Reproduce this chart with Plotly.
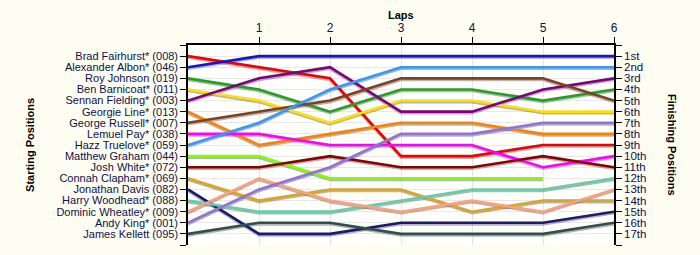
import plotly.graph_objects as go

laps = [0, 1, 2, 3, 4, 5, 6]
drivers = ["Brad Fairhurst* (008)", "Alexander Albon* (046)", "Roy Johnson (019)",
           "Ben Barnicoat* (011)", "Sennan Fielding* (003)", "Georgie Line* (013)",
           "George Russell* (007)", "Lemuel Pay* (038)", "Hazz Truelove* (059)",
           "Matthew Graham (044)", "Josh White* (072)", "Connah Clapham* (069)",
           "Jonathan Davis (082)", "Harry Woodhead* (088)", "Dominic Wheatley* (009)",
           "Andy King* (001)", "James Kellett (095)"]
positions = [
    [1, 2, 3, 10, 10, 9, 9],
    [2, 1, 1, 1, 1, 1, 1],
    [3, 4, 6, 4, 4, 5, 4],
    [4, 5, 7, 5, 5, 6, 6],
    [5, 3, 2, 6, 6, 4, 3],
    [6, 9, 8, 7, 7, 8, 8],
    [7, 6, 5, 3, 3, 3, 5],
    [8, 8, 9, 9, 9, 11, 10],
    [9, 7, 4, 2, 2, 2, 2],
    [10, 10, 12, 12, 12, 12, None],
    [11, 11, 10, 11, 11, 10, 11],
    [12, 14, 13, 13, 15, 14, 14],
    [13, 17, 17, 16, 16, 16, 15],
    [14, 15, 15, 14, 13, 13, 12],
    [15, 12, 14, 15, 14, 15, 13],
    [16, 13, 11, 8, 8, 7, 7],
    [17, 16, 16, 17, 17, 17, 16],
]
colors = ["#F00000", "#1414D2", "#22A022", "#FFE000", "#800080", "#FF8000",
          "#804020", "#FF00FF", "#3399FF", "#80FF00", "#8B0000", "#DAA520",
          "#1A1A70", "#66CDAA", "#FFA07A", "#9370DB", "#2F4F4F"]
finish_labels = ["1st", "2nd", "3rd", "4th", "5th", "6th", "7th", "8th", "9th",
                 "10th", "11th", "12th", "13th", "14th", "15th", "16th", "17th"]

FONT = "Liberation Sans"
TXT = "#10104A"
fig = go.Figure()

# drop shadows
for pos in positions:
    fig.add_trace(go.Scatter(x=laps, y=[p + 0.14 if p is not None else None for p in pos],
                             mode="lines", line=dict(color="rgba(90,90,90,0.45)", width=2.6),
                             hoverinfo="skip", showlegend=False))
for name, pos, c in zip(drivers, positions, colors):
    fig.add_trace(go.Scatter(x=laps, y=pos, mode="lines", name=name,
                             line=dict(color=c, width=2.6), showlegend=False))

# dummy trace for right axis
fig.add_trace(go.Scatter(x=[None], y=[None], yaxis="y2", showlegend=False))

ticks = list(range(0, 19))
left_text = [""] + drivers + [""]
right_text = [""] + finish_labels + [""]

fig.update_layout(
    width=700, height=255,
    margin=dict(l=188, r=86, t=45, b=10),
    paper_bgcolor="#FDFDF1", plot_bgcolor="#FFFFFB",
    font=dict(family=FONT, size=11, color=TXT),
    xaxis=dict(side="top", range=[0, 6], tickvals=[1, 2, 3, 4, 5, 6],
               showline=True, linecolor="black", linewidth=1.5,
               ticks="outside", ticklen=6, tickcolor="black",
               showgrid=True, gridcolor="#E4E4E4", zeroline=False,
               tickfont=dict(family=FONT, size=12, color=TXT)),
    yaxis=dict(range=[18, 0], tickvals=ticks, ticktext=left_text,
               showline=True, linecolor="black", linewidth=1.5,
               ticks="outside", ticklen=6, tickcolor="black",
               showgrid=True, gridcolor="#E8E8E8", zeroline=False,
               tickfont=dict(family=FONT, size=11, color=TXT)),
    yaxis2=dict(range=[18, 0], tickvals=ticks, ticktext=right_text, overlaying="y",
                side="right", anchor="x", showline=True, linecolor="black", linewidth=1.5,
                ticks="outside", ticklen=6, tickcolor="black", showgrid=False, zeroline=False,
                tickfont=dict(family=FONT, size=11.5, color=TXT)),
    annotations=[
        dict(text="<b>Laps</b>", x=0.5, y=1.15, xref="paper", yref="paper",
             xanchor="center", yanchor="middle",
             showarrow=False, font=dict(family=FONT, size=11, color="black")),
        dict(text="<b>Starting Positions</b>", x=-0.371, y=0.5, xref="paper", yref="paper",
             xanchor="center", yanchor="middle",
             showarrow=False, textangle=-90, font=dict(family=FONT, size=11, color="black")),
        dict(text="<b>Finishing Positions</b>", x=1.136, y=0.5, xref="paper", yref="paper",
             xanchor="center", yanchor="middle",
             showarrow=False, textangle=90, font=dict(family=FONT, size=11, color="black")),
    ],
)

fig.write_html("out.html")
